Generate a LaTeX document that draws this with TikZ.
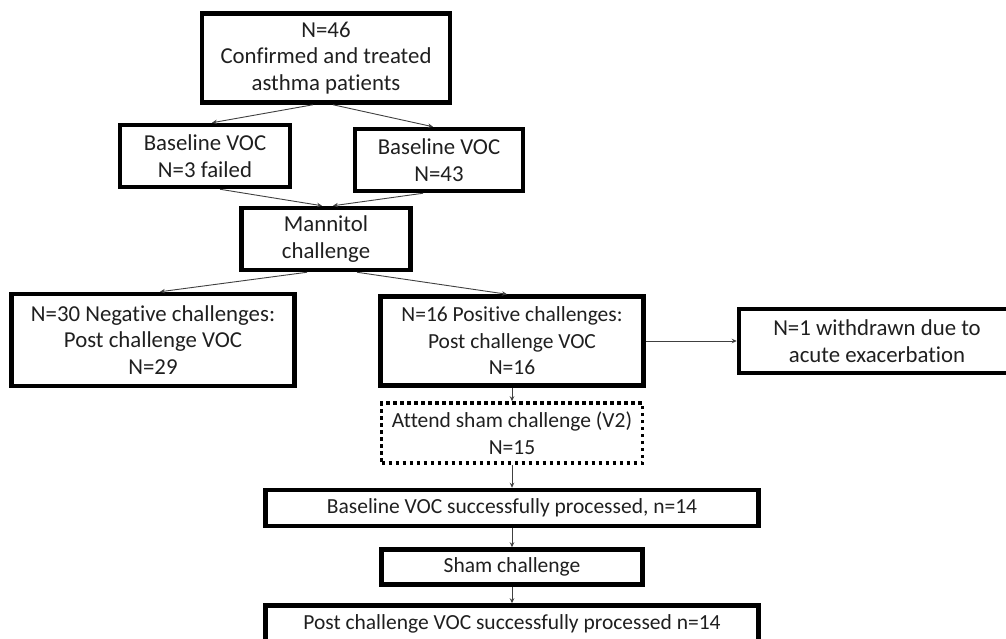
\documentclass[tikz,border=0pt]{standalone}
\usepackage{fontspec}
\setmainfont{Carlito}[Ligatures=NoCommon]
\usetikzlibrary{calc,arrows.meta}

\begin{document}
\begin{tikzpicture}[x=1pt, y=-1pt,
  box/.style={draw=black, line width=4.5pt, align=center, inner sep=0pt,
    text=black!88, font=\fontsize{21.5}{26.5}\selectfont},
  big/.style={font=\fontsize{22.8}{26.5}\selectfont},
  dotbox/.style={box, line width=3.5pt, dash pattern=on 3.5pt off 3.5pt},
  link/.style={draw=black!75, line width=0.9pt, -{Stealth[length=5pt,width=4.5pt]}}]
  % 画布 1006x638, 右边和底部的框超出画布
  \path[use as bounding box, clip] (0,0) rectangle (1006,638);
  % 上半部分
  \node[box, big, minimum width=248, minimum height=89] (all) at (326,58) {N=46\\Confirmed and treated\\asthma patients};
  \node[box, big, minimum width=170, minimum height=62] (fail) at (205,156) {Baseline VOC\\N=3 failed};
  \node[box, big, minimum width=168, minimum height=62] (voc) at (439,160) {Baseline VOC\\N=43};
  \node[box, big, minimum width=169, minimum height=62] (mann) at (326,239) {Mannitol\\challenge};
  % 挑战结果
  \node[box, big, minimum width=283, minimum height=92] (neg) at (153,340) {N=30 Negative challenges:\\Post challenge VOC\\N=29};
  \node[box, minimum width=263, minimum height=89] (pos) at (512,341) {N=16 Positive challenges:\\Post challenge VOC\\N=16};
  \node[box, big, minimum width=276, minimum height=64] (wd) at (877,341) {N=1 withdrawn due to\\acute exacerbation};
  % 假挑战 (V2)
  \node[dotbox, minimum width=261, minimum height=60] (visit) at (512,433) {Attend sham challenge (V2)\\N=15};
  \node[box, minimum width=493, minimum height=36] (base) at (512,508) {Baseline VOC successfully processed, n=14};
  \node[box, minimum width=261, minimum height=35] (sham) at (512,567) {Sham challenge};
  \node[box, minimum width=493, minimum height=37] (post) at (512,624) {Post challenge VOC successfully processed n=14};
  % 连线
  \draw[link] ($(all.south)+(-13,0)$) -- ($(fail.north)+(7,0)$);
  \draw[link] ($(all.south)+(7,0)$) -- ($(voc.north)+(-6,0)$);
  \draw[link] ($(fail.south)+(15,0)$) -- ($(mann.north)+(-4,0)$);
  \draw[link] ($(voc.south)+(-16,0)$) -- ($(mann.north)+(7,0)$);
  \draw[link] ($(mann.south)+(-19,0)$) -- ($(neg.north)+(7,0)$);
  \draw[link] ($(mann.south)+(31,0)$) -- ($(pos.north)+(-5,0)$);
  \draw[link] (pos.east) -- (wd.west);
  \draw[link] (pos.south) -- (visit.north);
  \draw[link] (visit.south) -- (base.north);
  \draw[link] (base.south) -- (sham.north);
  \draw[link] (sham.south) -- (post.north);
\end{tikzpicture}
\end{document}
